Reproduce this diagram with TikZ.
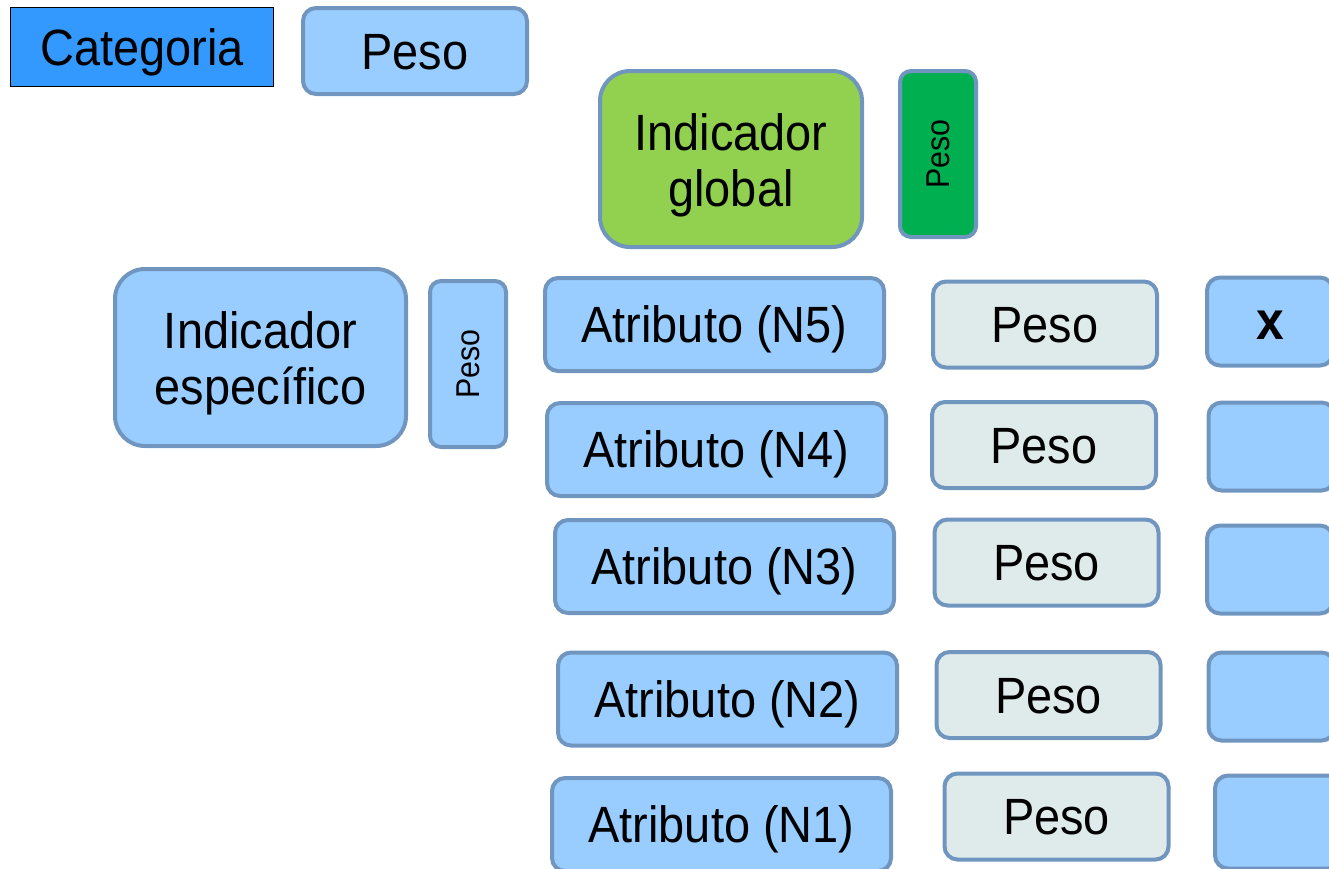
\documentclass[tikz,border=0pt]{standalone}
\usepackage{fontspec}
\setmainfont{Liberation Sans}
\newfontfamily\boxfont[FakeStretch=0.92]{Liberation Sans}
\usepackage{xcolor}
\definecolor{catblue}{RGB}{51,153,255}
\definecolor{boxblue}{RGB}{153,204,255}
\definecolor{edgeblue}{RGB}{112,150,192}
\definecolor{globgreen}{RGB}{146,208,80}
\definecolor{pesogreen}{RGB}{0,176,80}
\definecolor{pesogrey}{RGB}{223,235,235}
\newcommand{\bigtxt}{\boxfont\fontsize{51}{56}\selectfont}
\newcommand{\smalltxt}{\boxfont\fontsize{33}{38}\selectfont}
\tikzset{
  captext/.style={font=\bigtxt, text height=36.5pt, text depth=0pt},
  roundbox/.style={draw=edgeblue, line width=4pt, rounded corners=13pt, inner sep=0pt},
  bigbox/.style={roundbox, fill=boxblue, rounded corners=30pt, align=center, font=\bigtxt,
    text height=94pt, text depth=0pt, minimum width=291pt, minimum height=177pt},
  atrbox/.style={roundbox, captext, fill=boxblue, minimum width=339pt, minimum height=93pt},
  pesobox/.style={roundbox, captext, fill=pesogrey, minimum width=224pt, minimum height=86pt},
  valbox/.style={roundbox, captext, fill=boxblue, minimum width=126pt, minimum height=88pt},
  tallpeso/.style={roundbox, rounded corners=11pt, minimum width=76pt, minimum height=166pt, font=\smalltxt}
}
\begin{document}
\begin{tikzpicture}[x=1pt,y=-1pt]
\clip (0,0) rectangle (1329,868);

\node[draw=black, line width=1.5pt, fill=catblue, inner sep=0pt, captext, minimum width=263pt, minimum height=79pt] (cat) at (142,47) {Categoria};
\node[roundbox, captext, fill=boxblue, minimum width=224pt, minimum height=86pt] (peso0) at (415,51) {Peso};

\node[bigbox, fill=globgreen, minimum width=262pt, minimum height=176pt] (global) at (731,159) {Indicador\\global};
\node[tallpeso, fill=pesogreen] (pesog) at (938,154) {\rotatebox{90}{Peso}};

\node[bigbox] (espec) at (260.5,357.5) {Indicador\\específico};
\node[tallpeso, fill=boxblue] (pesoe) at (468,364) {\rotatebox{90}{Peso}};

\node[atrbox] (n5) at (714.5,324.5) {Atributo (N5)};
\node[atrbox] (n4) at (716.5,449.5) {Atributo (N4)};
\node[atrbox] (n3) at (724.5,566.5) {Atributo (N3)};
\node[atrbox] (n2) at (727.5,699) {Atributo (N2)};
\node[atrbox] (n1) at (721.5,824.5) {Atributo (N1)};

\node[pesobox] (p5) at (1045,324.5) {Peso};
\node[pesobox] (p4) at (1044,445) {Peso};
\node[pesobox] (p3) at (1046.5,562.5) {Peso};
\node[pesobox] (p2) at (1048.5,695) {Peso};
\node[pesobox] (p1) at (1056.5,816.5) {Peso};

\node[valbox, font=\boxfont\fontsize{54}{60}\selectfont\bfseries] (x5) at (1270,321.5) {x};
\node[valbox] (x4) at (1271.5,446.5) {};
\node[valbox] (x3) at (1270,569.5) {};
\node[valbox] (x2) at (1271.5,696.5) {};
\node[valbox, minimum height=93pt] (x1) at (1278,822) {};

\end{tikzpicture}
\end{document}
